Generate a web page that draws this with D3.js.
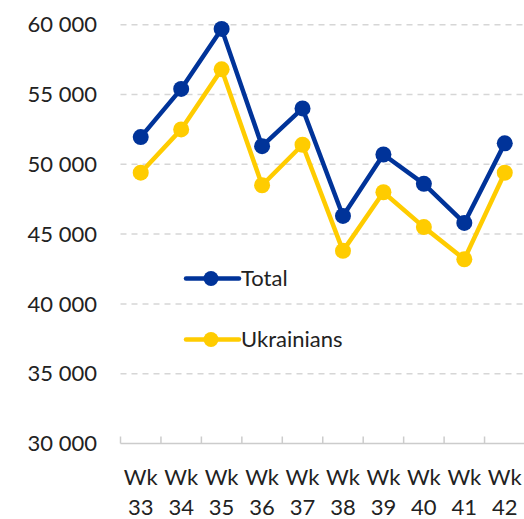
<!DOCTYPE html>
<html>
<head>
<meta charset="utf-8">
<script src="https://cdn.jsdelivr.net/npm/d3@7"></script>
<style>
  body { margin: 0; background: #fff; }
  svg text { font-family: Lato, "Noto Sans", sans-serif; fill: #222; }
</style>
</head>
<body>
<div id="chart"></div>
<script>
const weeks = ["33", "34", "35", "36", "37", "38", "39", "40", "41", "42"];
const total = [51950, 55400, 59700, 51300, 54000, 46300, 50700, 48600, 45800, 51500];
const ukrainians = [49400, 52500, 56800, 48500, 51400, 43800, 48000, 45500, 43200, 49400];
const yTicks = [30000, 35000, 40000, 45000, 50000, 55000, 60000];

const width = 524;
const height = 519;

const svg = d3.select("#chart")
    .append("svg")
    .attr("width", width)
    .attr("height", height);

const x = d3.scaleBand().domain(weeks).range([120.5, 525]);
const y = d3.scaleLinear().domain([30000, 60000]).range([443.5, 24.7]);

const fmt = d => d3.format(",")(d).replace(",", " ");

// grid
svg.append("g")
    .selectAll("line")
    .data(yTicks.filter(d => d > 30000))
    .enter()
    .append("line")
    .attr("x1", 120.5)
    .attr("x2", width)
    .attr("y1", d => y(d))
    .attr("y2", d => y(d))
    .attr("stroke", "#d6d6d6")
    .attr("stroke-width", 1.5)
    .attr("stroke-dasharray", "6,5");

// y labels
svg.append("g")
    .selectAll("text")
    .data(yTicks)
    .enter()
    .append("text")
    .attr("x", 97)
    .attr("y", d => y(d))
    .attr("dy", "0.35em")
    .attr("text-anchor", "end")
    .style("font-size", "22px")
    .text(fmt);

// x axis
const xAxis = svg.append("g");
xAxis.append("line")
    .attr("x1", 120.5).attr("x2", width)
    .attr("y1", 443.5).attr("y2", 443.5)
    .attr("stroke", "#cccccc").attr("stroke-width", 1.5);
xAxis.selectAll(".tick")
    .data(weeks)
    .enter()
    .append("line")
    .attr("x1", d => x(d)).attr("x2", d => x(d))
    .attr("y1", 436.5).attr("y2", 443.5)
    .attr("stroke", "#cccccc").attr("stroke-width", 1.5);

const xl = xAxis.selectAll(".lab")
    .data(weeks)
    .enter()
    .append("text")
    .attr("text-anchor", "middle")
    .style("font-size", "22px");
xl.append("tspan")
    .attr("x", d => x(d) + x.bandwidth() / 2)
    .attr("y", 484.5)
    .text("Wk");
xl.append("tspan")
    .attr("x", d => x(d) + x.bandwidth() / 2)
    .attr("y", 514.5)
    .text(d => d);

const series = [
    { name: "Total", values: total, color: "#003399" },
    { name: "Ukrainians", values: ukrainians, color: "#FFCC00" }
];

const line = d3.line()
    .x((d, i) => x(weeks[i]) + x.bandwidth() / 2)
    .y(d => y(d));

// draw ukrainians first so total is on top
[series[1], series[0]].forEach(s => {
    svg.append("path")
        .datum(s.values)
        .attr("fill", "none")
        .attr("stroke", s.color)
        .attr("stroke-width", 4.5)
        .attr("stroke-linejoin", "round")
        .attr("d", line);

    svg.append("g")
        .selectAll("circle")
        .data(s.values)
        .enter()
        .append("circle")
        .attr("cx", (d, i) => x(weeks[i]) + x.bandwidth() / 2)
        .attr("cy", d => y(d))
        .attr("r", 8)
        .attr("fill", s.color);
});

// legend
const legend = svg.append("g");
series.forEach((s, i) => {
    const ly = 278.5 + i * 61;
    legend.append("line")
        .attr("x1", 186).attr("x2", 239)
        .attr("y1", ly).attr("y2", ly)
        .attr("stroke", s.color).attr("stroke-width", 4.5)
        .attr("stroke-linecap", "round");
    legend.append("circle")
        .attr("cx", 211).attr("cy", ly).attr("r", 7.5)
        .attr("fill", s.color);
    legend.append("text")
        .attr("x", 241).attr("y", ly)
        .attr("dy", "0.35em")
        .style("font-size", "22px")
        .text(s.name);
});
</script>
</body>
</html>
